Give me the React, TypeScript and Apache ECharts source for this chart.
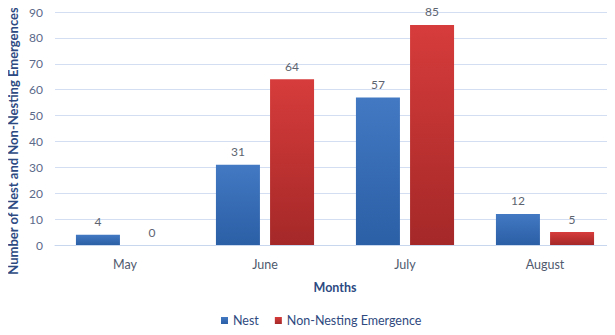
import React, { useEffect, useRef } from "react";
import * as echarts from "echarts";

const months = ["May", "June", "July", "August"];
const nestCounts = [4, 31, 57, 12];
const nonNestingCounts = [0, 64, 85, 5];
const seriesNames = ["Nest", "Non-Nesting Emergence"];
const yTitle = "Number of Nest and Non-Nesting Emergences";

const FONT = "Lato, 'Liberation Sans', sans-serif";

const blueFill = new echarts.graphic.LinearGradient(0, 0, 0, 1, [
  { offset: 0, color: "#4279c2" },
  { offset: 1, color: "#2b5fa6" },
]);
const redFill = new echarts.graphic.LinearGradient(0, 0, 0, 1, [
  { offset: 0, color: "#d63c3b" },
  { offset: 1, color: "#a52828" },
]);

export default function App() {
  const ref = useRef<HTMLDivElement>(null);

  useEffect(() => {
    if (!ref.current) return;
    const chart = echarts.init(ref.current, undefined, { renderer: "svg" });
    const valueLabel = {
      show: true,
      position: "top" as const,
      distance: 7,
      color: "#5d6470",
      fontSize: 12,
      fontFamily: FONT,
    };
    chart.setOption({
      animation: false,
      textStyle: { fontFamily: FONT },
      grid: { left: 55, right: -6, top: 12, bottom: 90 },
      legend: {
        bottom: 3,
        left: 216,
        itemWidth: 7,
        itemHeight: 7,
        itemGap: 16,
        icon: "rect",
        textStyle: { color: "#2f4a80", fontSize: 12.5, fontFamily: FONT },
        data: seriesNames,
      },
      graphic: [
        {
          type: "text",
          x: 13,
          y: 141,
          rotation: Math.PI / 2,
          style: {
            text: yTitle,
            fill: "#2d4a82",
            font: `bold 13px ${FONT}`,
            align: "center",
            verticalAlign: "middle",
          },
        },
      ],
      xAxis: {
        type: "category",
        data: months,
        name: "Months",
        nameLocation: "middle",
        nameGap: 36,
        nameTextStyle: { color: "#2d4a82", fontWeight: "bold", fontSize: 12.5, fontFamily: FONT },
        axisLine: { lineStyle: { color: "#c9d7ee", width: 1 } },
        axisTick: { show: false },
        axisLabel: { color: "#4f5a6e", fontSize: 12.5, margin: 13, fontFamily: FONT },
      },
      yAxis: {
        type: "value",
        min: 0,
        max: 90,
        interval: 10,
        axisLine: { show: false },
        axisTick: { show: false },
        axisLabel: { color: "#5b6a8a", fontSize: 12, margin: 12, fontFamily: FONT },
        splitLine: { lineStyle: { color: "#d3def2", width: 1 } },
      },
      series: [
        {
          name: seriesNames[0],
          type: "bar",
          data: nestCounts,
          barWidth: 44,
          barGap: "23%",
          itemStyle: { color: blueFill },
          label: valueLabel,
        },
        {
          name: seriesNames[1],
          type: "bar",
          data: nonNestingCounts,
          barWidth: 44,
          barGap: "23%",
          itemStyle: { color: redFill },
          label: valueLabel,
        },
      ],
    });
    return () => chart.dispose();
  }, []);

  return <div ref={ref} style={{ width: 615, height: 335, margin: -8 }} />;
}
